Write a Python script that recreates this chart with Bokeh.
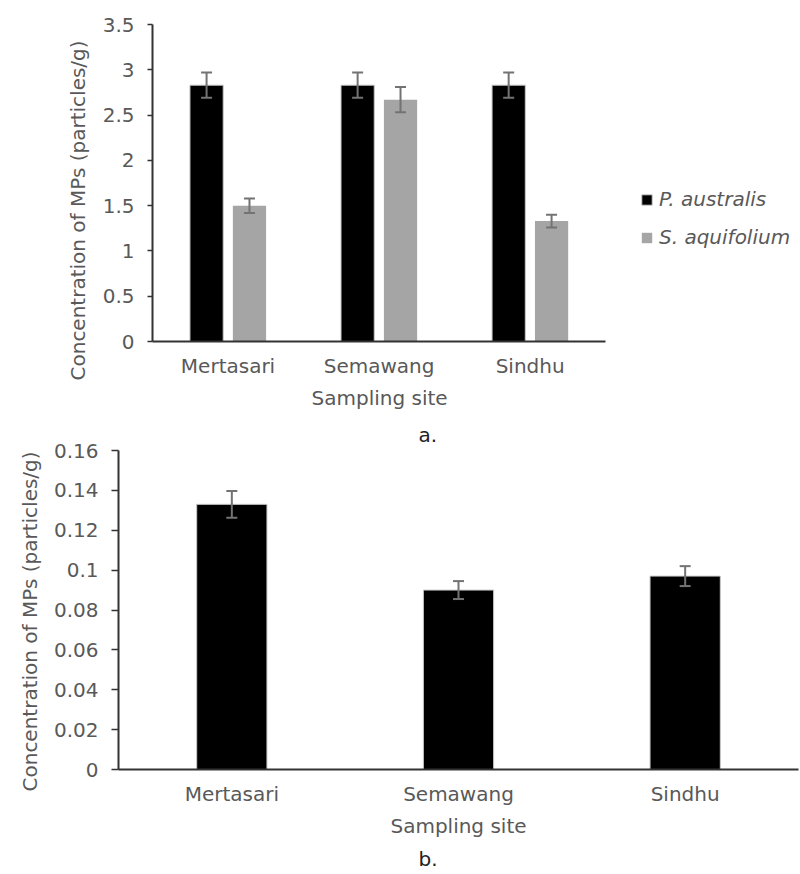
from bokeh.plotting import figure
from bokeh.models import (ColumnDataSource, FactorRange, Range1d, FixedTicker,
                          NumeralTickFormatter, Whisker, TeeHead, Legend, LegendItem, Title)
from bokeh.transform import dodge
from bokeh.embed import file_html
from bokeh.resources import INLINE

# ---------------- data ----------------
sites = ["Mertasari", "Semawang", "Sindhu"]
species = ["P. australis", "S. aquifolium"]
y_title = "Concentration of MPs (particles/g)"
x_title = "Sampling site"
panel_tags = ["a.", "b."]

a_australis = [2.83, 2.83, 2.83]
a_australis_err = [0.14, 0.14, 0.14]
a_aquifolium = [1.50, 2.67, 1.33]
a_aquifolium_err = [0.08, 0.14, 0.07]
a_yticks = [0, 0.5, 1, 1.5, 2, 2.5, 3, 3.5]

b_values = [0.133, 0.090, 0.097]
b_err = [0.0067, 0.0045, 0.005]
b_yticks = [0, 0.02, 0.04, 0.06, 0.08, 0.10, 0.12, 0.14, 0.16]

# ---------------- style ----------------
FONT = "DejaVu Sans"
TXT = "#595959"
AX = "#333333"
ERR = "#737373"
GRAY = "#a5a5a5"
EDGE = "#c8c8c8"
FS = "20px"


def style(p, ticks, tick_len):
    p.outline_line_color = None
    p.xgrid.grid_line_color = None
    p.ygrid.grid_line_color = None
    yax = p.yaxis[0]
    yax.ticker = FixedTicker(ticks=ticks)
    yax.formatter = NumeralTickFormatter(format="0.[00]")
    yax.major_tick_out = tick_len
    yax.major_tick_in = 0
    yax.minor_tick_line_color = None
    yax.axis_line_color = AX
    yax.axis_line_width = 2
    yax.major_tick_line_color = AX
    yax.major_tick_line_width = 1.5
    yax.major_label_text_font = FONT
    yax.major_label_text_font_size = FS
    yax.major_label_text_color = TXT
    yax.major_label_standoff = 13
    xax = p.xaxis[0]
    xax.major_tick_line_color = None
    xax.major_tick_out = 0
    xax.major_tick_in = 0
    xax.minor_tick_line_color = None
    xax.axis_line_color = AX
    xax.axis_line_width = 2
    xax.major_label_text_font = FONT
    xax.major_label_text_font_size = FS
    xax.major_label_text_color = TXT
    xax.major_label_standoff = 12
    xax.axis_label_text_font = FONT
    xax.axis_label_text_font_size = FS
    xax.axis_label_text_font_style = "normal"
    xax.axis_label_text_color = TXT
    xax.axis_label_standoff = 5


def whisker(p, base, lo, hi, src):
    w = Whisker(base=base, lower=lo, upper=hi, source=src, level="annotation",
                line_color=ERR, line_width=2,
                upper_head=TeeHead(size=11, line_color=ERR, line_width=2),
                lower_head=TeeHead(size=11, line_color=ERR, line_width=2))
    p.add_layout(w)


def title(p, text, side, align, offset, standoff, valign, color=TXT):
    p.add_layout(Title(text=text, align=align, offset=offset, standoff=standoff,
                       vertical_align=valign, text_font=FONT, text_font_size=FS,
                       text_font_style="normal", text_color=color), side)


# ---------------- panel a ----------------
# numeric category slots so that the legend can sit inside the (wider) frame
site_pos = [i + 0.5 for i in range(len(sites))]
src_a = ColumnDataSource(dict(
    pos=site_pos,
    aus=a_australis,
    aus_lo=[v - e for v, e in zip(a_australis, a_australis_err)],
    aus_hi=[v + e for v, e in zip(a_australis, a_australis_err)],
    aqu=a_aquifolium,
    aqu_lo=[v - e for v, e in zip(a_aquifolium, a_aquifolium_err)],
    aqu_hi=[v + e for v, e in zip(a_aquifolium, a_aquifolium_err)],
))

pa = figure(width=800, height=418, x_range=Range1d(0, 4.29),
            y_range=Range1d(0, 3.5), output_backend="svg", toolbar_location=None,
            min_border_left=152, min_border_right=0, min_border_top=24,
            min_border_bottom=77)
style(pa, a_yticks, 5)
pa.xaxis[0].ticker = FixedTicker(ticks=site_pos)
pa.xaxis[0].major_label_overrides = {p: s for p, s in zip(site_pos, sites)}
pa.xaxis[0].bounds = (0, len(sites))

r1 = pa.vbar(x=dodge("pos", -0.142), top="aus", width=0.22,
             source=src_a, fill_color="#000000", line_color=EDGE, line_width=1)
r2 = pa.vbar(x=dodge("pos", 0.142), top="aqu", width=0.22,
             source=src_a, fill_color=GRAY, line_color=None)
whisker(pa, dodge("pos", -0.142), "aus_lo", "aus_hi", src_a)
whisker(pa, dodge("pos", 0.142), "aqu_lo", "aqu_hi", src_a)

legend = Legend(items=[LegendItem(label=species[0], renderers=[r1]),
                       LegendItem(label=species[1], renderers=[r2])],
                location=(488, 92), padding=0, margin=0, spacing=14,
                glyph_width=13, glyph_height=13, label_standoff=6,
                border_line_color=None, background_fill_alpha=0,
                label_text_font=FONT, label_text_font_size=FS,
                label_text_font_style="italic", label_text_color=TXT)
pa.add_layout(legend)
title(pa, y_title, "left", "left", -39, 20, "bottom")
title(pa, x_title, "below", "left", 159, 11, "top")

# ---------------- panel b ----------------
src_b = ColumnDataSource(dict(
    site=sites,
    val=b_values,
    lo=[v - e for v, e in zip(b_values, b_err)],
    hi=[v + e for v, e in zip(b_values, b_err)],
))

pb = figure(width=800, height=456, x_range=FactorRange(factors=sites),
            y_range=Range1d(0, 0.16), output_backend="svg", toolbar_location=None,
            min_border_left=118, min_border_right=2, min_border_top=32,
            min_border_bottom=105)
style(pb, b_yticks, 7)
pb.xaxis[0].axis_label = x_title
pb.vbar(x="site", top="val", width=0.31, source=src_b,
        fill_color="#000000", line_color=EDGE, line_width=1)
whisker(pb, "site", "lo", "hi", src_b)
title(pb, y_title, "left", "left", -22, 18, "bottom")

# panel tags: "a." sits just above panel b, "b." below it
title(pb, panel_tags[0], "above", "left", 300, 4, "top", "#222222")
title(pb, panel_tags[1], "below", "left", 300, 8, "bottom", "#222222")

open("out.html", "w").write(file_html([pa, pb], INLINE))
